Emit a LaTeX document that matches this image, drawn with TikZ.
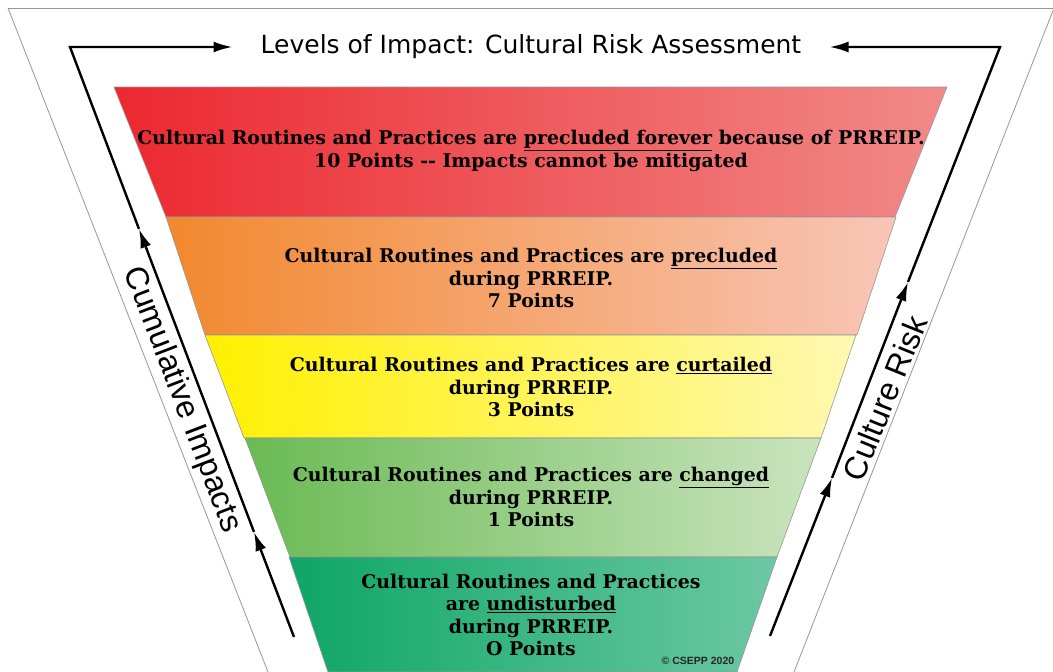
\documentclass[tikz,border=0pt]{standalone}
\usepackage{fontspec}
\usepackage{tikz}
\usetikzlibrary{arrows.meta, calc, positioning}

\newfontfamily\titlefont{DejaVu Sans}
\newfontfamily\sidefont{Liberation Sans}
\newfontfamily\layerfont{DejaVu Serif}

\definecolor{redL}{RGB}{236,40,48}
\definecolor{redR}{RGB}{241,138,136}
\definecolor{oraL}{RGB}{242,136,46}
\definecolor{oraR}{RGB}{248,198,184}
\definecolor{yelL}{RGB}{255,240,0}
\definecolor{yelR}{RGB}{255,248,178}
\definecolor{ltgL}{RGB}{106,186,84}
\definecolor{ltgR}{RGB}{202,228,190}
\definecolor{dkgL}{RGB}{14,166,102}
\definecolor{dkgR}{RGB}{108,200,164}
\definecolor{sepgray}{RGB}{150,150,150}

\tikzset{
  layertext/.style={font=\layerfont\bfseries\fontsize{18.9}{22.3}\selectfont, align=center, inner sep=0pt},
  sidetext/.style={font=\sidefont\fontsize{32}{36}\selectfont, inner sep=0pt},
  frame/.style={line width=2.4pt, line join=miter},
  tip/.style={-{Latex[length=19pt,width=11pt]}},
  layer/.style={draw=sepgray, line width=0.6pt}
}

\begin{document}
\begin{tikzpicture}[x=1pt,y=-1pt]
            \useasboundingbox (0,0) rectangle (1053,672);

            % outer funnel
            \draw[sepgray, line width=0.8pt] (8,8) -- (1054,8);
            \draw[sepgray, line width=0.8pt] (8,8) -- (268,672);
            \draw[sepgray, line width=0.8pt] (1054,8) -- (794,672);

            % levels, top to bottom
            \shade[layer, left color=redL, right color=redR] (114,87) -- (947,87) -- (895,217) -- (166,217) -- cycle;
            \shade[layer, left color=oraL, right color=oraR] (166,217) -- (896,217) -- (857,335) -- (205,335) -- cycle;
            \shade[layer, left color=yelL, right color=yelR] (205,335) -- (856,335) -- (821,438) -- (244,438) -- cycle;
            \shade[layer, left color=ltgL, right color=ltgR] (245,438) -- (821,438) -- (777,557) -- (290,557) -- cycle;
            \shade[layer, left color=dkgL, right color=dkgR] (289,557) -- (777,557) -- (737,672) -- (328,672) -- cycle;

            % level texts
            \node[layertext] (forever) at (531,151) {Cultural Routines and Practices are \underline{precluded forever} because of PRREIP.\\10 Points -{}- Impacts cannot be mitigated};
            \node[layertext] (precluded) at (531,278) {Cultural Routines and Practices are \underline{precluded}\\during PRREIP.\\7 Points};
            \node[layertext] (curtailed) at (531,387) {Cultural Routines and Practices are \underline{curtailed}\\during PRREIP.\\3 Points};
            \node[layertext] (changed) at (531,497) {Cultural Routines and Practices are \underline{changed}\\during PRREIP.\\1 Points};
            \node[layertext] (undisturbed) at (531,615) {Cultural Routines and Practices\\are \underline{undisturbed}\\during PRREIP.\\O Points};
            \node[font=\sidefont\bfseries\fontsize{10.5}{12}\selectfont, text=black!85, inner sep=0pt] (copyr) at (698,661) {© CSEPP 2020};

            % title with arrows
            \node[font=\titlefont\fontsize{25}{30}\selectfont, inner xsep=28pt, inner ysep=0pt] (title) at (531,47) {Levels of Impact: Cultural Risk Assessment};

            \coordinate (lbot) at (294,637);
            \coordinate (larrA) at (254,532);
            \coordinate (larrB) at (139,229);
            \coordinate (ltop) at (70,47);
            \coordinate (rbot) at (770,636);
            \coordinate (rarrA) at (832,478);
            \coordinate (rarrB) at (908,282);
            \coordinate (rtop) at (1000,47);

            \draw[frame, tip] (lbot) -- (larrA);
            \draw[frame, tip] (larrA) -- (larrB);
            \draw[frame, tip] (larrB) -- (ltop) -- (title.west);
            \draw[frame, tip] (rbot) -- (rarrA);
            \draw[frame, tip] (rarrA) -- (rarrB);
            \draw[frame, tip] (rarrB) -- (rtop) -- (title.east);

            % side labels
            \node[sidetext, rotate=-69] (cumul) at (182,400) {Cumulative Impacts};
            \node[sidetext, rotate=68] (risk) at (885,398) {Culture Risk};
        \end{tikzpicture}
\end{document}
